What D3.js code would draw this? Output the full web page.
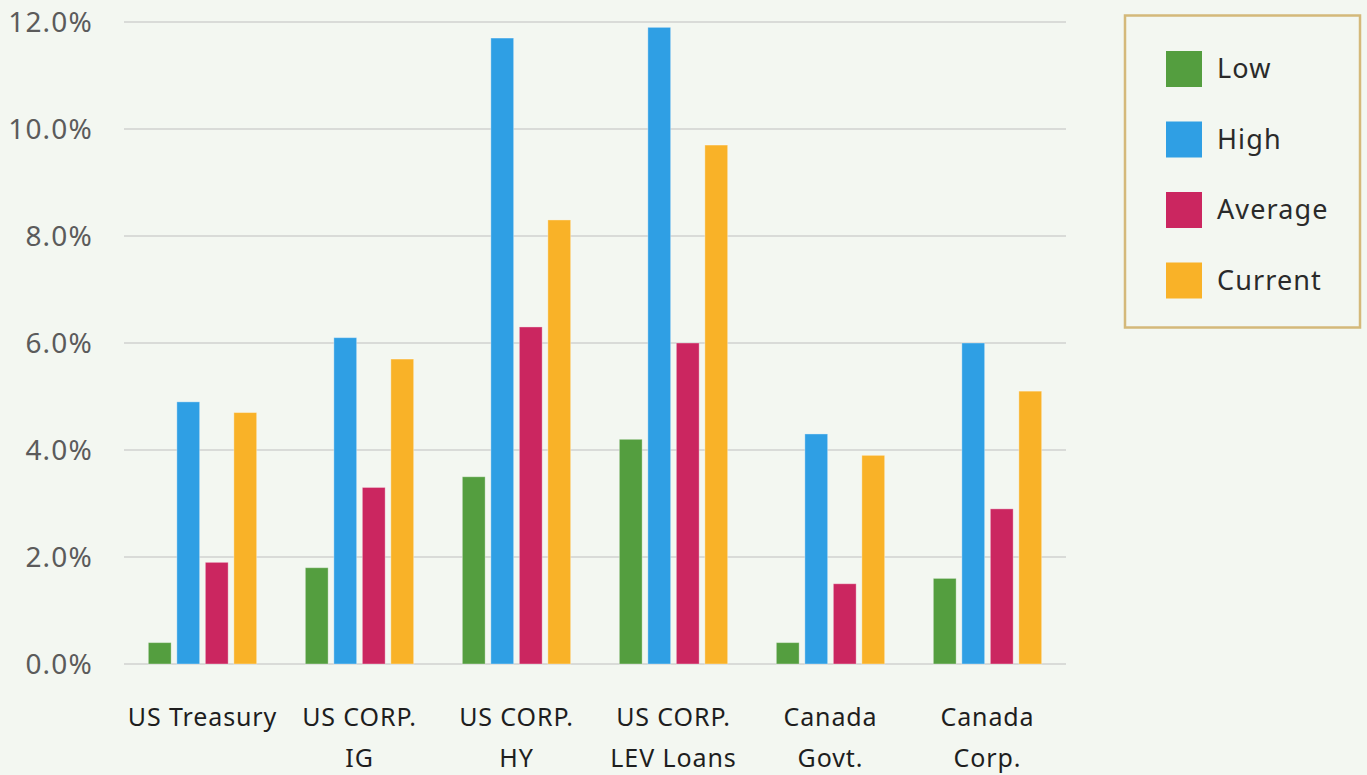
<!DOCTYPE html>
<html>
<head>
<meta charset="utf-8">
<script src="https://cdn.jsdelivr.net/npm/d3@7"></script>
<style>
  body { margin: 0; background: #f3f7f1; }
  svg { display: block; font-family: "Noto Sans", sans-serif; }
</style>
</head>
<body>
<div id="chart-area"></div>
<script>
// categories on the x axis, two lines each
var categories = [
  ["US Treasury"],
  ["US CORP.", "IG"],
  ["US CORP.", "HY"],
  ["US CORP.", "LEV Loans"],
  ["Canada", "Govt."],
  ["Canada", "Corp."]
]
var seriesNames = ["Low", "High", "Average", "Current"]
var seriesColors = ["#549e3f", "#2f9fe4", "#cb2660", "#f9b228"]

// yield values in percent
var low     = [0.4, 1.8, 3.5, 4.2, 0.4, 1.6]
var high    = [4.9, 6.1, 11.7, 11.9, 4.3, 6.0]
var average = [1.9, 3.3, 6.3, 6.0, 1.5, 2.9]
var current = [4.7, 5.7, 8.3, 9.7, 3.9, 5.1]
var yTicks  = [0, 2, 4, 6, 8, 10, 12]

var seriesValues = [low, high, average, current]
var data = categories.map(function(c, i){
    return { key: i, label: c, values: seriesValues.map(function(s, j){ return { name: seriesNames[j], value: s[i] } }) }
})

var width = 1367, height = 775

var svg = d3.select("#chart-area").append("svg")
    .attr("width", width)
    .attr("height", height)

svg.append("rect").attr("width", width).attr("height", height).attr("fill", "#f3f7f1")

var x0 = d3.scaleBand()
    .domain(data.map(function(d){ return d.key }))
    .range([124, 1066])
    .paddingInner(0.31)
    .paddingOuter(0.155)

var x1 = d3.scaleBand()
    .domain(seriesNames)
    .range([0, x0.bandwidth()])
    .paddingInner(0.2)

var y = d3.scaleLinear()
    .domain([0, 12])
    .range([664, 22])

var color = d3.scaleOrdinal().domain(seriesNames).range(seriesColors)

// gridlines
svg.append("g")
    .selectAll("line")
    .data(yTicks)
    .enter()
    .append("line")
    .attr("x1", 124)
    .attr("x2", 1066)
    .attr("y1", function(d){ return y(d) })
    .attr("y2", function(d){ return y(d) })
    .attr("stroke", "#d9dbd8")
    .attr("stroke-width", 2)

// y axis labels
var yAxis = d3.axisLeft(y)
    .tickValues(yTicks)
    .tickSize(0)
    .tickPadding(0)
    .tickFormat(function(d){ return d.toFixed(1) + "%" })

var gy = svg.append("g")
    .attr("transform", "translate(93,0)")
    .call(yAxis)
gy.select(".domain").remove()
gy.selectAll("text")
    .attr("font-size", 28)
    .attr("font-family", "Noto Sans, sans-serif")
    .attr("letter-spacing", 1.2)
    .attr("fill", "#5b5b5b")
    .attr("dy", "0.35em")

// bars
var groups = svg.append("g")
    .selectAll("g")
    .data(data)
    .enter()
    .append("g")
    .attr("transform", function(d){ return "translate(" + x0(d.key) + ",0)" })

groups.selectAll("rect")
    .data(function(d){ return d.values })
    .enter()
    .append("rect")
    .attr("x", function(d){ return x1(d.name) })
    .attr("y", function(d){ return y(d.value) })
    .attr("width", x1.bandwidth())
    .attr("height", function(d){ return y(0) - y(d.value) })
    .attr("fill", function(d){ return color(d.name) })
    .attr("stroke", "rgba(255,255,255,0.35)")
    .attr("stroke-width", 1)

// category labels
var labels = svg.append("g")
    .selectAll("text")
    .data(data)
    .enter()
    .append("text")
    .attr("x", function(d){ return x0(d.key) + x0.bandwidth() / 2 })
    .attr("y", 726)
    .attr("text-anchor", "middle")
    .attr("font-size", 25)
    .attr("letter-spacing", 0.9)
    .attr("fill", "#1e1e1e")

labels.selectAll("tspan")
    .data(function(d){ return d.label })
    .enter()
    .append("tspan")
    .attr("x", function(){ return this.parentNode.getAttribute("x") })
    .attr("dy", function(d, i){ return i == 0 ? 0 : 41 })
    .text(function(d){ return d })

// legend
var legend = svg.append("g")
svg.append("rect")
    .attr("x", 1125)
    .attr("y", 15.5)
    .attr("width", 235)
    .attr("height", 312)
    .attr("fill", "none")
    .attr("stroke", "#d4b97a")
    .attr("stroke-width", 2.5)

var items = legend.selectAll("g")
    .data(seriesNames)
    .enter()
    .append("g")
    .attr("transform", function(d, i){ return "translate(1166," + (51 + i * 70.5) + ")" })

items.append("rect")
    .attr("width", 36)
    .attr("height", 36)
    .attr("fill", function(d){ return color(d) })

items.append("text")
    .attr("x", 51)
    .attr("y", 18)
    .attr("dy", "0.35em")
    .attr("font-size", 27)
    .attr("letter-spacing", 1.1)
    .attr("fill", "#2a2a2a")
    .text(function(d){ return d })
</script>
</body>
</html>
